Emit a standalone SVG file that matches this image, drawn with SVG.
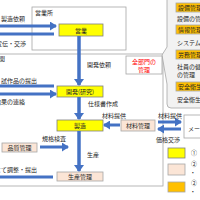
<svg xmlns="http://www.w3.org/2000/svg" width="200" height="200" viewBox="0 0 200 200">
<style>
.t{font-family:"Noto Sans CJK JP","Noto Sans",sans-serif;font-size:6px;fill:#262626}
.c{text-anchor:middle}
.r{fill:#FF0000}
.s{font-size:5px}
.frame{fill:none;stroke:#A6A6A6;stroke-width:0.8}
.y{fill:#FFFF00;stroke:#7F7F7F;stroke-width:0.8}
.p{fill:#FBE5D6;stroke:#A6A6A6;stroke-width:0.8}
.o{fill:#FFC000;stroke:#A6A6A6;stroke-width:0.8}
.w{fill:#FFFFFF;stroke:#A6A6A6;stroke-width:0.8}
.ar{stroke:#4472C4;stroke-width:3;fill:none}
.av{stroke:#4472C4;stroke-width:3.5;fill:none}
</style>
<defs>
<marker id="ah" markerUnits="userSpaceOnUse" markerWidth="7" markerHeight="9" refX="6" refY="4.5" orient="auto">
<path d="M0,0 L7,4.5 L0,9 z" fill="#4472C4"/>
</marker>
<marker id="av" markerUnits="userSpaceOnUse" markerWidth="7" markerHeight="10" refX="6" refY="5" orient="auto">
<path d="M0,0 L7,5 L0,10 z" fill="#4472C4"/>
</marker>
</defs>
<rect width="200" height="200" fill="#FFFFFF"/>

<g id="frame-main">
<rect class="frame" x="-5" y="54" width="168" height="132"/>
<text class="t" x="-1" y="61">関</text>
</g>

<g id="eigyosho">
<rect class="frame" x="32" y="7" width="94" height="43"/>
<text class="t" x="35" y="15">営業所</text>
</g>

<g id="panel">
<path d="M167,-5 L167,47 L162,55 L167,84 L167,104 Q167,108 171,108 L205,108 L205,-5 Z" fill="#F2F2F2" stroke="#A6A6A6" stroke-width="0.8"/>
<rect class="o" x="176" y="3" width="30" height="9"/>
<text class="t" x="178" y="10">設備管理</text>
<text class="t" x="177" y="20.5">設備の管</text>
<rect class="o" x="176" y="25" width="30" height="9"/>
<text class="t" x="178" y="32">情報管理</text>
<text class="t" x="177" y="44.5">システムの</text>
<rect class="o" x="176" y="50" width="30" height="9"/>
<text class="t" x="178" y="57">労務管理</text>
<text class="t" x="177" y="69">社員の健</text>
<text class="t" x="177" y="76.5">の管理</text>
<rect class="o" x="176" y="82" width="30" height="9"/>
<text class="t" x="178" y="89">安全衛生</text>
<text class="t" x="177" y="102">安全衛生</text>
</g>

<g id="zenbumon">
<rect class="w" x="126" y="56" width="36" height="18"/>
<text class="t c r" x="144" y="63.5">全部門の</text>
<text class="t c r" x="144" y="71.5">管理</text>
</g>

<g id="eigyo">
<rect class="y" x="59" y="24" width="44" height="12"/>
<text class="t c" x="81" y="32.5">営業</text>
</g>

<g id="kaihatsu">
<rect class="y" x="57" y="86" width="46" height="11"/>
<text class="t c" x="80" y="94">開発(研究)</text>
</g>

<g id="seizo">
<rect class="y" x="57" y="120" width="46" height="11"/>
<text class="t c" x="80" y="128">製造</text>
</g>

<g id="zairyo">
<rect class="p" x="121" y="120" width="34" height="11"/>
<text class="t c" x="138" y="128">材料管理</text>
</g>

<g id="maker">
<rect class="w" x="184" y="115" width="22" height="23"/>
<text class="t" x="188" y="131">メーカー</text>
</g>

<g id="hinshitsu">
<rect class="p" x="2" y="143" width="35" height="9"/>
<text class="t c" x="19.5" y="150">品質管理</text>
</g>

<g id="seisan">
<rect class="p" x="57" y="172" width="46" height="9"/>
<text class="t c" x="80" y="179">生産管理</text>
</g>

<g id="legend">
<rect class="y" x="168" y="148" width="17" height="10"/>
<rect class="p" x="168" y="164" width="17" height="11"/>
<rect class="o" x="168" y="182" width="17" height="10"/>
<text class="t" x="191" y="155">①</text>
<text class="t" x="191" y="166">②</text>
<text class="t s" x="192" y="174">•</text>
<text class="t" x="191" y="184.5">②</text>
<text class="t s" x="192" y="192.5">•</text>
</g>

<g id="connectors">
<line class="ar" x1="-5" y1="26" x2="56" y2="26" marker-end="url(#ah)"/>
<line class="ar" x1="-5" y1="34" x2="54" y2="34"/>
<line class="av" x1="79" y1="36" x2="79" y2="85" marker-end="url(#av)"/>
<line class="ar" x1="-5" y1="86" x2="54" y2="86"/>
<line class="ar" x1="-5" y1="94" x2="56" y2="94" marker-end="url(#ah)"/>
<line class="av" x1="79" y1="97" x2="79" y2="119" marker-end="url(#av)"/>
<line class="ar" x1="120" y1="125" x2="104" y2="125" marker-end="url(#ah)"/>
<line class="ar" x1="158" y1="122" x2="181" y2="122" marker-end="url(#ah)"/>
<line class="ar" x1="181" y1="129" x2="158" y2="129" marker-end="url(#ah)"/>
<line class="ar" x1="40" y1="147" x2="68" y2="147" marker-end="url(#ah)"/>
<line class="av" x1="79" y1="131" x2="79" y2="171" marker-end="url(#av)"/>
<line class="ar" x1="-5" y1="177" x2="53" y2="177"/>
<text class="t" x="1" y="21">製造依頼</text>
<text class="t" x="-4" y="46">宣伝・交渉</text>
<text class="t" x="87" y="67">開発依頼</text>
<text class="t" x="1" y="83">試作品の提出</text>
<text class="t" x="-5" y="104">結果の連絡</text>
<text class="t" x="88" y="106">仕様書作成</text>
<text class="t" x="102" y="118">材料提供</text>
<text class="t" x="158" y="118">材料提供</text>
<text class="t" x="156" y="142">価格交渉</text>
<text class="t" x="42" y="141">規格検査</text>
<text class="t" x="87" y="157">生産</text>
<text class="t" x="-5" y="172">にて調整・提出</text>
</g>
</svg>
